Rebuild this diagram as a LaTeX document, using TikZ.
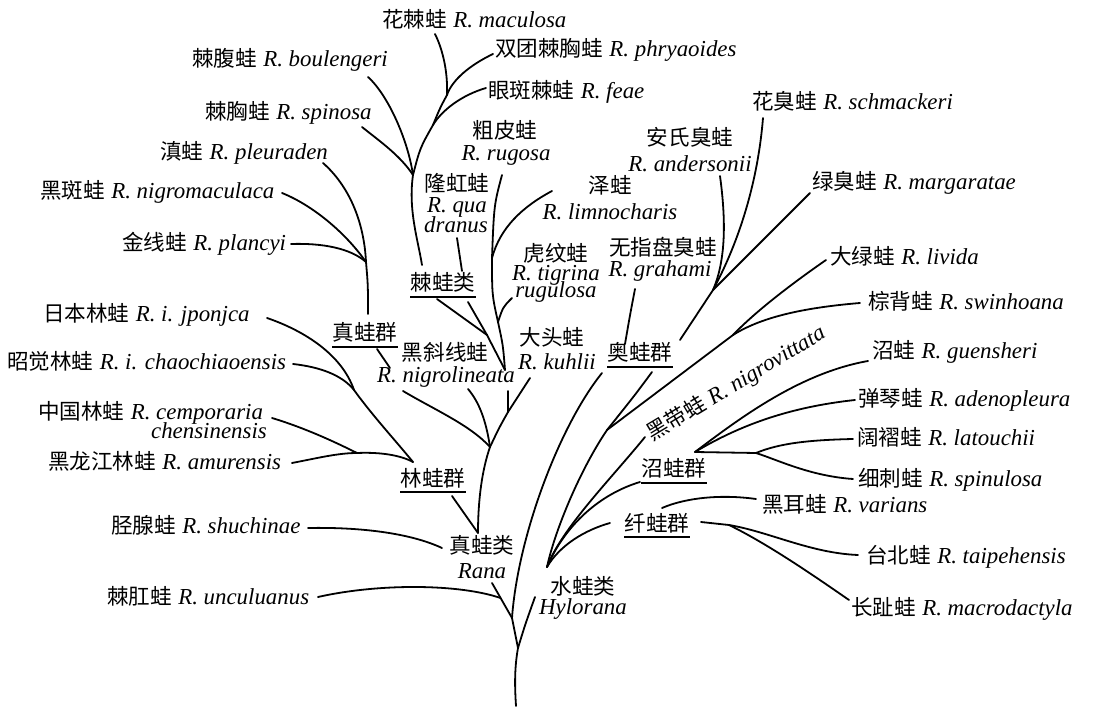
\documentclass[tikz,border=0pt]{standalone}
\usepackage{fontspec}
\setmainfont{Liberation Serif}[Scale=1.04]
\newfontfamily\cjk[Scale=0.98]{Noto Sans CJK SC}
\usetikzlibrary{calc}
\newcommand{\frog}[2]{{\cjk #1}\hspace{0.28em}\textit{#2}}

\begin{document}
\begin{tikzpicture}[x=1pt, y=-1pt,
    br/.style={line width=1.8pt, line cap=round},
    lab/.style={inner sep=0pt, font=\fontsize{22}{24}\selectfont},
    sp/.style={lab, anchor=base west},
    grp/.style={lab, anchor=base}]
\useasboundingbox (0,0) rectangle (1093,708);

% Especies
\node[sp] (maculosa) at (382,28) {\frog{花棘蛙}{R. maculosa}};
\node[sp] (phryaoides) at (495,57) {\frog{双团棘胸蛙}{R. phryaoides}};
\node[sp] (boulengeri) at (192,67) {\frog{棘腹蛙}{R. boulengeri}};
\node[sp] (feae) at (488,99) {\frog{眼斑棘蛙}{R. feae}};
\node[sp] (spinosa) at (205,120) {\frog{棘胸蛙}{R. spinosa}};
\node[sp] (pleuraden) at (160,160) {\frog{滇蛙}{R. pleuraden}};
\node[sp] (schmackeri) at (752,110) {\frog{花臭蛙}{R. schmackeri}};
\node[sp] (nigromaculaca) at (40,199) {\frog{黑斑蛙}{R. nigromaculaca}};
\node[sp] (margaratae) at (812,190) {\frog{绿臭蛙}{R. margaratae}};
\node[sp] (plancyi) at (122,251) {\frog{金线蛙}{R. plancyi}};
\node[sp] (livida) at (830,265) {\frog{大绿蛙}{R. livida}};
\node[sp] (swinhoana) at (868,310) {\frog{棕背蛙}{R. swinhoana}};
\node[sp] (jponjca) at (43,322) {\frog{日本林蛙}{R. i. jponjca}};
\node[sp] (chaochiaoensis) at (7,370) {\frog{昭觉林蛙}{R. i. chaochiaoensis}};
\node[sp] (guensheri) at (872,359) {\frog{沼蛙}{R. guensheri}};
\node[sp] (cemporaria) at (38,420) {\frog{中国林蛙}{R. cemporaria}};
\node[lab, anchor=base east] (chensinensis) at (267,439) {\textit{chensinensis}};
\node[sp] (adenopleura) at (858,407) {\frog{弹琴蛙}{R. adenopleura}};
\node[sp] (latouchii) at (857,446) {\frog{阔褶蛙}{R. latouchii}};
\node[sp] (amurensis) at (48,470) {\frog{黑龙江林蛙}{R. amurensis}};
\node[sp] (spinulosa) at (858,486) {\frog{细刺蛙}{R. spinulosa}};
\node[sp] (varians) at (762,513) {\frog{黑耳蛙}{R. varians}};
\node[sp] (shuchinae) at (111,533) {\frog{胫腺蛙}{R. shuchinae}};
\node[sp] (taipehensis) at (866,563) {\frog{台北蛙}{R. taipehensis}};
\node[sp] (unculuanus) at (107,604) {\frog{棘肛蛙}{R. unculuanus}};
\node[sp] (macrodactyla) at (851,615) {\frog{长趾蛙}{R. macrodactyla}};
\node[sp, rotate=31] (nigrovittata) at (652,442) {\frog{黑带蛙}{R. nigrovittata}};

% Especies en dos lineas
\node[grp] (cupi) at (505,139) {\cjk 粗皮蛙};
\node[grp] (rugosa) at (506,161) {\textit{R. rugosa}};
\node[grp] (anshi) at (690,146) {\cjk 安氏臭蛙};
\node[grp] (andersonii) at (690,172) {\textit{R. andersonii}};
\node[grp] (zewa) at (610,194) {\cjk 泽蛙};
\node[grp] (limnocharis) at (610,220) {\textit{R. limnocharis}};
\node[grp] (longhong) at (457,192) {\cjk 隆虹蛙};
\node[grp] (qua) at (457,213) {\textit{R. qua}};
\node[grp] (dranus) at (456,233) {\textit{dranus}};
\node[grp] (huwen) at (556,262) {\cjk 虎纹蛙};
\node[grp] (tigrina) at (556,281) {\textit{R. tigrina}};
\node[grp] (rugulosa) at (556,298) {\textit{rugulosa}};
\node[grp] (wuzhi) at (663,256) {\cjk 无指盘臭蛙};
\node[grp] (grahami) at (660,277) {\textit{R. grahami}};
\node[grp] (datou) at (552,346) {\cjk 大头蛙};
\node[grp] (kuhlii) at (557,370) {\textit{R. kuhlii}};
\node[grp] (heixie) at (445,361) {\cjk 黑斜线蛙};
\node[grp] (nigrolineata) at (446,383) {\textit{R. nigrolineata}};
\node[grp] (zhenlei) at (482,554) {\cjk 真蛙类};
\node[grp] (rana) at (482,578) {\textit{Rana}};
\node[grp] (shuilei) at (583,594) {\cjk 水蛙类};
\node[grp] (hylorana) at (583,614) {\textit{Hylorana}};

% Grupos
\node[grp] (jiwa) at (443,291) {\cjk 棘蛙类};
\node[grp] (zhenqun) at (365,341) {\cjk 真蛙群};
\node[grp] (aoqun) at (640,361) {\cjk 奥蛙群};
\node[grp] (linqun) at (433,486) {\cjk 林蛙群};
\node[grp] (zhaoqun) at (674,477) {\cjk 沼蛙群};
\node[grp] (xianqun) at (657,531) {\cjk 纤蛙群};
\foreach \g in {jiwa,zhenqun,aoqun,linqun,zhaoqun,xianqun}
  \draw[line width=1.2pt] ([yshift=-6pt]\g.base west) -- ([yshift=-6pt]\g.base east);

% Ramas de 棘蛙类
\coordinate (j1) at (447,95);
\coordinate (j2) at (433,125);
\coordinate (j3) at (413,175);
\coordinate (jiT) at (422,265);
\coordinate (e1) at (435,34);
\coordinate (e2) at (493,54);
\coordinate (e4) at (486,88);
\coordinate (e5) at (368,77);
\coordinate (e6) at (362,127);
\draw[br] (e1) .. controls (442,48) and (448,70) .. (j1);
\draw[br] (e2) .. controls (470,65) and (452,80) .. (j1);
\draw[br] (j1) .. controls (440,108) .. (j2) .. controls (420,148) .. (j3) .. controls (408,210) and (418,240) .. (jiT);
\draw[br] (e4) .. controls (462,95) and (442,110) .. (j2);
\draw[br] (e5) .. controls (388,95) and (408,140) .. (j3);
\draw[br] (e6) .. controls (378,140) and (400,155) .. (j3);
\coordinate (qa) at (457,238);
\coordinate (qb) at (462,271);
\draw[br] (qa) -- (qb);

% Ramas centrales
\coordinate (jiL) at (437,299);
\coordinate (jiR) at (468,302);
\coordinate (jj) at (487,335);
\coordinate (q) at (505,370);
\draw[br] (jiL) -- (jj) -- (q);
\draw[br] (jiR) -- (jj);
\coordinate (e9) at (502,175);
\coordinate (ze) at (492,258);
\coordinate (hu) at (498,322);
\draw[br] (e9) .. controls (494,205) .. (ze) .. controls (492,295) .. (hu) .. controls (503,345) .. (q);
\coordinate (e10) at (552,191);
\draw[br] (e10) .. controls (522,207) and (500,228) .. (ze);
\coordinate (e11) at (512,298);
\draw[br] (e11) .. controls (503,307) .. (hu);
\coordinate (kT) at (508,391);
\coordinate (k) at (508,412);
\coordinate (m) at (490,447);
\coordinate (e13) at (530,378);
\draw[br] (kT) -- (k) .. controls (499,428) .. (m);
\draw[br] (e13) -- (k);
\coordinate (e15) at (468,389);
\draw[br] (e15) .. controls (479,402) and (486,420) .. (m);

% Ramas de 真蛙群
\coordinate (t) at (366,262);
\coordinate (zhT) at (368,314);
\coordinate (e18) at (323,163);
\coordinate (e19) at (282,193);
\coordinate (e20) at (291,244);
\draw[br] (e18) .. controls (348,185) and (364,220) .. (t) .. controls (368,285) .. (zhT);
\draw[br] (e19) .. controls (312,205) and (345,232) .. (t);
\draw[br] (e20) .. controls (322,243) and (350,248) .. (t);
\coordinate (zb) at (377,349);
\coordinate (zc) at (390,368);
\coordinate (zd) at (403,391);
\draw[br] (zb) -- (zc);
\draw[br] (zd) .. controls (435,410) and (470,425) .. (m);

% Ramas de 林蛙群
\coordinate (l1) at (354,390);
\coordinate (l2) at (357,453);
\coordinate (lw) at (413,462);
\coordinate (e21) at (267,318);
\coordinate (e22) at (293,364);
\coordinate (e24) at (272,418);
\coordinate (e25) at (292,463);
\draw[br] (e21) .. controls (305,331) and (342,355) .. (l1);
\draw[br] (e22) .. controls (320,367) and (342,375) .. (l1);
\draw[br] (l1) .. controls (372,415) and (395,440) .. (lw);
\draw[br] (e24) .. controls (305,428) and (335,442) .. (l2);
\draw[br] (e25) .. controls (318,458) and (338,453) .. (l2);
\draw[br] (l2) .. controls (380,452) and (400,455) .. (lw);

% Tronco y 真蛙类
\coordinate (ranaT) at (478,533);
\coordinate (linB) at (452,496);
\coordinate (ranaL) at (442,548);
\coordinate (ranaB) at (492,583);
\coordinate (n1) at (512,618);
\coordinate (n0) at (518,648);
\coordinate (root) at (516,706);
\draw[br] (m) .. controls (482,470) and (478,500) .. (ranaT);
\draw[br] (linB) -- (ranaT);
\coordinate (e28) at (308,528);
\draw[br] (e28) .. controls (360,527) and (410,533) .. (ranaL);
\draw[br] (ranaB) -- (n1) -- (n0) .. controls (514,670) and (515,690) .. (root);
\coordinate (un) at ($(ranaB)!0.43!(n1)$);
\coordinate (e29) at (318,597);
\draw[br] (e29) .. controls (380,583) and (460,584) .. (un);
\coordinate (aoL) at (602,373);
\draw[br] (aoL) .. controls (560,425) and (518,535) .. (n1);

% 水蛙类
\coordinate (hyB) at (535,597);
\coordinate (h) at (547,567);
\draw[br] (n0) .. controls (525,625) .. (hyB);
\coordinate (p) at (607,430);
\coordinate (e36) at (645,437);
\coordinate (zhL) at (640,482);
\coordinate (xL) at (610,523);
\draw[br] (p) .. controls (580,470) and (555,530) .. (h);
\draw[br] (e36) .. controls (610,480) and (562,528) .. (h);
\draw[br] (zhL) .. controls (600,494) and (565,525) .. (h);
\draw[br] (xL) .. controls (585,530) and (560,545) .. (h);

% Ramas de 奥蛙群
\coordinate (e39) at (635,289);
\coordinate (aoT) at (625,344);
\draw[br] (e39) .. controls (630,315) .. (aoT);
\coordinate (o) at (713,290);
\coordinate (aoR) at (680,340);
\coordinate (e40) at (763,118);
\coordinate (e41) at (720,176);
\coordinate (e42) at (810,193);
\draw[br] (e40) .. controls (758,180) and (740,240) .. (o);
\draw[br] (e41) .. controls (726,220) and (726,260) .. (o);
\draw[br] (e42) -- (o) -- (aoR);
\coordinate (aoBR) at (652,372);
\draw[br] (aoBR) .. controls (635,395) .. (p);
\coordinate (g) at (733,335);
\coordinate (e45) at (826,260);
\coordinate (e46) at (860,303);
\draw[br] (e45) .. controls (790,285) and (755,312) .. (g);
\draw[br] (e46) .. controls (800,308) and (760,318) .. (g);
\draw[br] (g) -- (p);

% Ramas de 沼蛙群
\coordinate (s) at (695,452);
\coordinate (s2) at (756,453);
\coordinate (e48) at (868,361);
\coordinate (e49) at (855,400);
\coordinate (e51) at (853,439);
\coordinate (e52) at (853,479);
\draw[br] (e48) .. controls (800,373) and (740,418) .. (s);
\draw[br] (e49) .. controls (790,407) and (740,425) .. (s);
\draw[br] (s) -- (s2);
\draw[br] (e51) .. controls (810,440) and (780,443) .. (s2);
\draw[br] (e52) .. controls (810,476) and (778,460) .. (s2);

% Ramas de 纤蛙群
\coordinate (e53) at (756,499);
\coordinate (xT) at (662,508);
\draw[br] (e53) .. controls (720,494) and (685,498) .. (xT);
\coordinate (xR) at (701,522);
\coordinate (f) at (729,525);
\draw[br] (xR) -- (f);
\coordinate (e55) at (858,555);
\coordinate (e56) at (849,600);
\draw[br] (f) .. controls (770,532) and (810,553) .. (e55);
\draw[br] (f) .. controls (770,545) and (820,580) .. (e56);
\end{tikzpicture}
\end{document}
